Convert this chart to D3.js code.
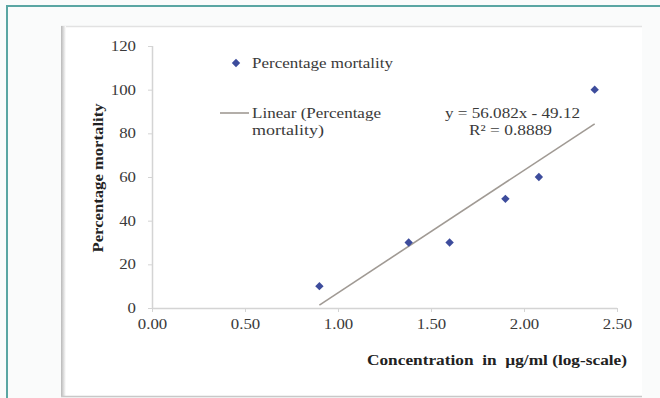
<!DOCTYPE html>
<html><head><meta charset="utf-8">
<script src="https://cdn.jsdelivr.net/npm/d3@7"></script>
<style>
html,body{margin:0;padding:0;background:#fafbfb;}
svg{display:block;}
</style></head><body>
<svg id="c" width="660" height="398"></svg>
<script>
const xValues = [0.90, 1.38, 1.60, 1.90, 2.08, 2.38];
const mortality = [10, 30, 30, 50, 60, 100];
const xTicks = [0, 0.5, 1.0, 1.5, 2.0, 2.5];
const yTicks = [0, 20, 40, 60, 80, 100, 120];
const slope = 56.082, intercept = -49.12;
const eqLabel = "y = 56.082x - 49.12";
const r2Label = "R² = 0.8889";
const seriesName = "Percentage mortality";
const trendName = ["Linear (Percentage", "mortality)"];
const yTitle = "Percentage mortality";
const xTitle = "Concentration  in  µg/ml (log-scale)";

const FONT = "'Liberation Serif','Times New Roman',serif";
const STRETCH = 1.2;
const svg = d3.select("#c");
// outer frame
svg.append("rect").attr("x",0).attr("y",0).attr("width",660).attr("height",398).attr("fill","#fafbfb");
svg.append("line").attr("x1",6).attr("x2",660).attr("y1",6).attr("y2",6).attr("stroke","#5aa6a3").attr("stroke-width",2);
svg.append("line").attr("x1",7).attr("x2",7).attr("y1",6).attr("y2",398).attr("stroke","#5aa6a3").attr("stroke-width",2);
// inner white box
svg.append("rect").attr("x",61).attr("y",26).attr("width",581).attr("height",371).attr("fill","#ffffff");
svg.append("line").attr("x1",61).attr("x2",642).attr("y1",26.5).attr("y2",26.5).attr("stroke","#e2e2e2").attr("stroke-width",1.5);
const grad = svg.append("defs").append("linearGradient").attr("id","sh").attr("x1",0).attr("x2",1);
grad.append("stop").attr("offset",0).attr("stop-color","#b8b8b8");
grad.append("stop").attr("offset",1).attr("stop-color","#ffffff");
svg.append("rect").attr("x",61).attr("y",26).attr("width",5).attr("height",371).attr("fill","url(#sh)");
svg.append("line").attr("x1",61).attr("x2",642).attr("y1",396.5).attr("y2",396.5).attr("stroke","#c8c8c8").attr("stroke-width",1.5);

const x = d3.scaleLinear().domain([0,2.5]).range([152,617]);
const y = d3.scaleLinear().domain([0,120]).range([308,46]);

function stretch(sel, target){
  sel.each(function(){
    const n = this.getComputedTextLength();
    d3.select(this).attr("textLength", target ? target : n*STRETCH).attr("lengthAdjust","spacingAndGlyphs");
  });
}

const gx = svg.append("g").attr("transform","translate(0,308)")
  .call(d3.axisBottom(x).tickValues(xTicks).tickFormat(d3.format(".2f")).tickSize(4).tickPadding(7));
const gy = svg.append("g").attr("transform","translate(152,0)")
  .call(d3.axisLeft(y).tickValues(yTicks).tickSize(4).tickPadding(12));
[gx,gy].forEach(g=>{
  g.attr("font-family",FONT).attr("font-size",14);
  g.select(".domain").attr("stroke","#d4d4d4").attr("stroke-width",1.5);
  g.selectAll(".tick line").attr("stroke","#d4d4d4").attr("stroke-width",1);
  g.selectAll(".tick text").attr("fill","#3a3a3a").style("font-family",FONT).style("font-size","14px");
  stretch(g.selectAll(".tick text"));
});
gx.select(".domain").attr("d","M152,0.5H617");
gy.select(".domain").attr("d","M0.5,46V308");

// trendline
const x0 = d3.min(xValues), x1 = d3.max(xValues);
svg.append("line").attr("x1",x(x0)).attr("y1",y(slope*x0+intercept))
  .attr("x2",x(x1)).attr("y2",y(slope*x1+intercept))
  .attr("stroke","#a09a94").attr("stroke-width",1.6);

// points
const diamond = d3.symbol().type(d3.symbolDiamond2).size(45);
svg.selectAll("path.pt").data(xValues).join("path").attr("class","pt")
  .attr("d",diamond).attr("fill","#3d4c9c")
  .attr("transform",(d,i)=>`translate(${x(d)},${y(mortality[i])})`);

function txt(xp, yp, s, size, opts={}){
  const t = svg.append("text").attr("x",xp).attr("y",yp)
    .style("font-family",FONT).style("font-size",size+"px")
    .attr("fill",opts.fill||"#3a3a3a").text(s);
  if(opts.anchor) t.attr("text-anchor",opts.anchor);
  if(opts.bold) t.style("font-weight","bold");
  if(opts.pre) t.attr("xml:space","preserve").style("white-space","pre");
  if(opts.len) t.attr("textLength",opts.len).attr("lengthAdjust","spacingAndGlyphs");
  return t;
}

// legend
svg.append("path").attr("d",diamond).attr("fill","#3d4c9c").attr("transform","translate(236,63)");
txt(252,68,seriesName,15,{len:141});
svg.append("line").attr("x1",220).attr("x2",249).attr("y1",113).attr("y2",113).attr("stroke","#a09a94").attr("stroke-width",1.6);
txt(252,118,trendName[0],15,{len:129});
txt(252,135,trendName[1],15,{len:72});

// equation
txt(445,118,eqLabel,15,{len:135});
txt(469,135,r2Label,15,{len:83});

// titles
svg.append("text").attr("transform","translate(103,178) rotate(-90)").attr("text-anchor","middle")
  .style("font-family",FONT).style("font-size","15px").style("font-weight","bold").attr("fill","#222")
  .attr("textLength",149).attr("lengthAdjust","spacingAndGlyphs").text(yTitle);
txt(367,365,xTitle,15,{bold:true,fill:"#222",pre:true,len:260});
</script>
</body></html>
